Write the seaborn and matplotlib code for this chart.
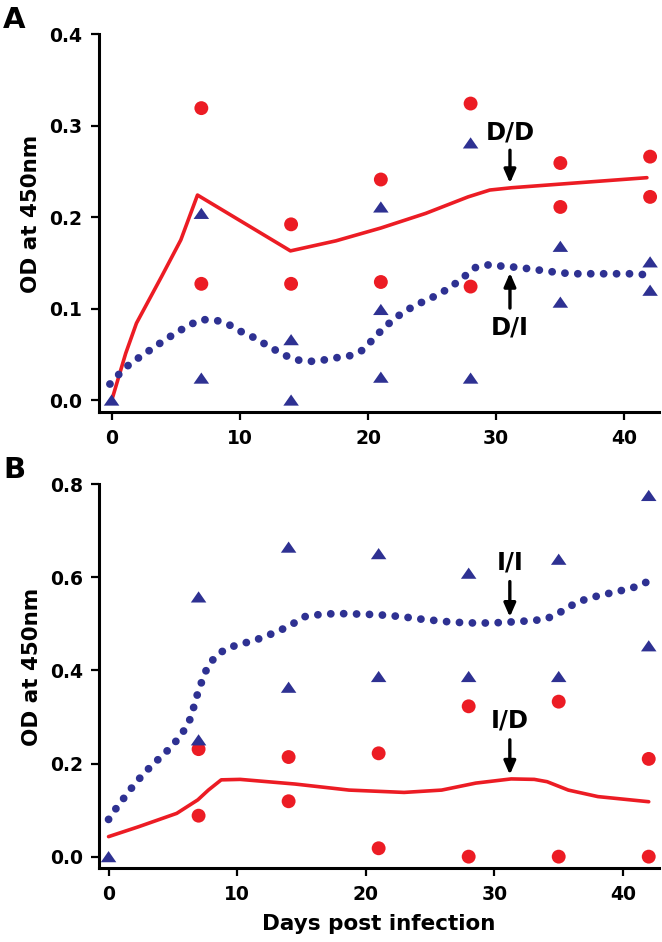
import numpy as np
import pandas as pd
import matplotlib
matplotlib.use("Agg")
import matplotlib.pyplot as plt
import seaborn as sns

# ---- data ----
# Panel A: red circles (D/D) and blue triangles (D/I)
dd_days = [7, 7, 14, 14, 21, 21, 28, 28, 35, 35, 42, 42]
dd_od = [0.319, 0.127, 0.192, 0.127, 0.241, 0.129, 0.324, 0.124, 0.259, 0.211, 0.266, 0.222]
di_days = [0, 7, 7, 14, 14, 21, 21, 21, 28, 28, 35, 35, 42, 42]
di_od = [0.0, 0.204, 0.024, 0.066, 0.0, 0.211, 0.099, 0.025, 0.281, 0.024, 0.168, 0.107, 0.151, 0.120]

# fitted curves, panel A
dd_curve_x = [0.06, 1.1, 1.94, 3.9, 5.4, 6.7, 13.95, 17.5, 21, 24.5, 27.8, 29.5, 31.2, 35, 41.75]
dd_curve_y = [0.002, 0.051, 0.084, 0.135, 0.175, 0.224, 0.163, 0.174, 0.188, 0.204, 0.222, 0.2295, 0.232, 0.236, 0.243]
di_curve_x = [-0.13, 0.63, 1.38, 2.3, 3.25, 4.18, 5.1, 6.05, 7.04, 8.2, 9.2, 10.2, 11.15, 12.1,
              13.1, 14.1, 15.2, 16.25, 17.4, 18.5, 19.5, 20.3, 21.1, 21.9, 22.75, 23.75, 24.7,
              25.7, 26.6, 27.6, 28.4, 29.5, 30.6, 31.7, 32.8, 33.9, 35, 36.1, 37.2, 38.4, 39.5,
              40.6, 41.6]
di_curve_y = [0.0175, 0.029, 0.039, 0.048, 0.057, 0.066, 0.074, 0.082, 0.088, 0.087, 0.082, 0.074,
              0.068, 0.060, 0.052, 0.045, 0.042, 0.043, 0.046, 0.048, 0.054, 0.065, 0.077, 0.087,
              0.096, 0.104, 0.110, 0.117, 0.125, 0.136, 0.145, 0.148, 0.146, 0.145, 0.143, 0.141,
              0.139, 0.138, 0.138, 0.138, 0.138, 0.138, 0.137]

# Panel B: blue triangles (I/I) and red circles (I/D)
ii_days = [0, 7, 7, 14, 14, 21, 21, 28, 28, 35, 35, 42, 42]
ii_od = [0.0, 0.558, 0.251, 0.665, 0.364, 0.651, 0.387, 0.609, 0.387, 0.639, 0.387, 0.776, 0.453]
id_days = [7, 7, 14, 14, 21, 21, 28, 28, 35, 35, 42, 42]
id_od = [0.231, 0.088, 0.214, 0.119, 0.222, 0.018, 0.323, 0.0, 0.333, 0.0, 0.210, 0.0]

id_curve_x = [0, 2.36, 5.3, 6.94, 7.76, 8.76, 10.23, 14.5, 18.7, 22.98, 25.9, 28.55, 31.3, 33.1,
              34.1, 35.75, 38.05, 42]
id_curve_y = [0.043, 0.0645, 0.093, 0.122, 0.143, 0.165, 0.166, 0.156, 0.143, 0.138, 0.143, 0.158,
              0.167, 0.166, 0.161, 0.143, 0.129, 0.118]
ii_curve_x = [0.0, 0.62, 1.28, 1.97, 2.69, 3.47, 4.26, 5.01, 5.73, 6.29, 6.62, 6.91, 7.27, 7.67,
              8.35, 9.24, 10.28, 11.3, 12.35, 13.33, 14.31, 15.3, 16.37, 17.48, 18.57, 19.65,
              20.76, 21.84, 22.99, 24.04, 25.15, 26.26, 27.37, 28.42, 29.53, 30.58, 31.77, 32.88,
              33.96, 34.94, 35.86, 36.9, 37.88, 38.97, 40.08, 41.16, 42.14]
ii_curve_y = [0.080, 0.105, 0.129, 0.154, 0.177, 0.199, 0.219, 0.240, 0.265, 0.292, 0.321, 0.349,
              0.378, 0.406, 0.432, 0.448, 0.457, 0.464, 0.475, 0.486, 0.500, 0.516, 0.520, 0.522,
              0.522, 0.521, 0.520, 0.518, 0.515, 0.511, 0.508, 0.505, 0.503, 0.502, 0.502, 0.503,
              0.505, 0.507, 0.510, 0.522, 0.538, 0.551, 0.559, 0.566, 0.573, 0.581, 0.594]

RED = "#EC1C24"
BLUE = "#2E3192"
tri = [(-1, -0.72), (1, -0.72), (0, 0.72)]

sns.set_style("ticks")
plt.rcParams["font.family"] = ["DejaVu Sans"]
plt.rcParams["font.weight"] = "bold"
for key in ["text.color", "axes.edgecolor", "axes.labelcolor", "xtick.color", "ytick.color"]:
    plt.rcParams[key] = "black"

fig = plt.figure(figsize=(6.62, 9.42), dpi=100)
ax1 = fig.add_axes([0.149, 0.5623, 0.8464, 0.4016])
ax2 = fig.add_axes([0.150, 0.0786, 0.8455, 0.4073])


def draw_panel(ax, red_x, red_y, blue_x, blue_y, red_cx, red_cy, blue_cx, blue_cy):
    sns.lineplot(x=red_cx, y=red_cy, ax=ax, color=RED, linewidth=2.6, sort=False,
                 estimator=None, zorder=2)
    sns.lineplot(x=blue_cx, y=blue_cy, ax=ax, color=BLUE, linewidth=5.6, sort=False,
                 estimator=None, linestyle=(0, (0.01, 1.65)), dash_capstyle="round", zorder=2)
    sns.scatterplot(x=red_x, y=red_y, ax=ax, color=RED, marker="o", s=100,
                    edgecolor="none", zorder=3)
    sns.scatterplot(x=blue_x, y=blue_y, ax=ax, color=BLUE, marker=tri, s=125,
                    edgecolor="none", zorder=3)
    sns.despine(ax=ax)
    for sp in ["left", "bottom"]:
        ax.spines[sp].set_linewidth(2.2)
    ax.tick_params(axis="both", length=6, width=1.6, pad=6, labelsize=13.5, direction="out")
    ax.set_xticks([0, 10, 20, 30, 40])


draw_panel(ax1, dd_days, dd_od, di_days, di_od, dd_curve_x, dd_curve_y, di_curve_x, di_curve_y)
ax1.set_xlim(-1.01, 42.69)
ax1.set_ylim(-0.0134, 0.4)
ax1.set_yticks([0.0, 0.1, 0.2, 0.3, 0.4])
ax1.set_yticklabels(["0.0", "0.1", "0.2", "0.3", "0.4"])

draw_panel(ax2, id_days, id_od, ii_days, ii_od, id_curve_x, id_curve_y, ii_curve_x, ii_curve_y)
ax2.set_xlim(-0.72, 42.8)
ax2.set_ylim(-0.0243, 0.8)
ax2.set_yticks([0.0, 0.2, 0.4, 0.6, 0.8])
ax2.set_yticklabels(["0.0", "0.2", "0.4", "0.6", "0.8"])

for ax in (ax1, ax2):
    ax.set_xlabel("")
    ax.set_ylabel("")
    ax.text(-0.12, 0.525, "OD at 450nm", transform=ax.transAxes, rotation=90,
            ha="center", va="center", fontsize=15.5, fontweight="bold")

ax2.text(0.5, -0.147, "Days post infection", transform=ax2.transAxes,
         ha="center", va="center", fontsize=15.5, fontweight="bold")


def arrow(ax, x, tail, tip, label, label_y):
    ax.annotate("", xy=(x, tip), xytext=(x, tail),
                arrowprops=dict(arrowstyle="-|>,head_width=0.35,head_length=0.8",
                                color="black", lw=2.4, shrinkA=0, shrinkB=0))
    ax.text(x, label_y, label, ha="center", va="center", fontsize=17.5, fontweight="bold")


arrow(ax1, 31.07, 0.273, 0.237, "D/D", 0.292)
arrow(ax1, 31.07, 0.1005, 0.139, "D/I", 0.079)
arrow(ax2, 31.2, 0.591, 0.515, "I/I", 0.632)
arrow(ax2, 31.2, 0.251, 0.176, "I/D", 0.2925)

fig.text(3 / 662, 1 - 28 / 942, "A", fontsize=21, fontweight="bold", ha="left", va="baseline")
fig.text(3 / 662, 1 - 478 / 942, "B", fontsize=21, fontweight="bold", ha="left", va="baseline")

fig.savefig("out.png", dpi=100)
